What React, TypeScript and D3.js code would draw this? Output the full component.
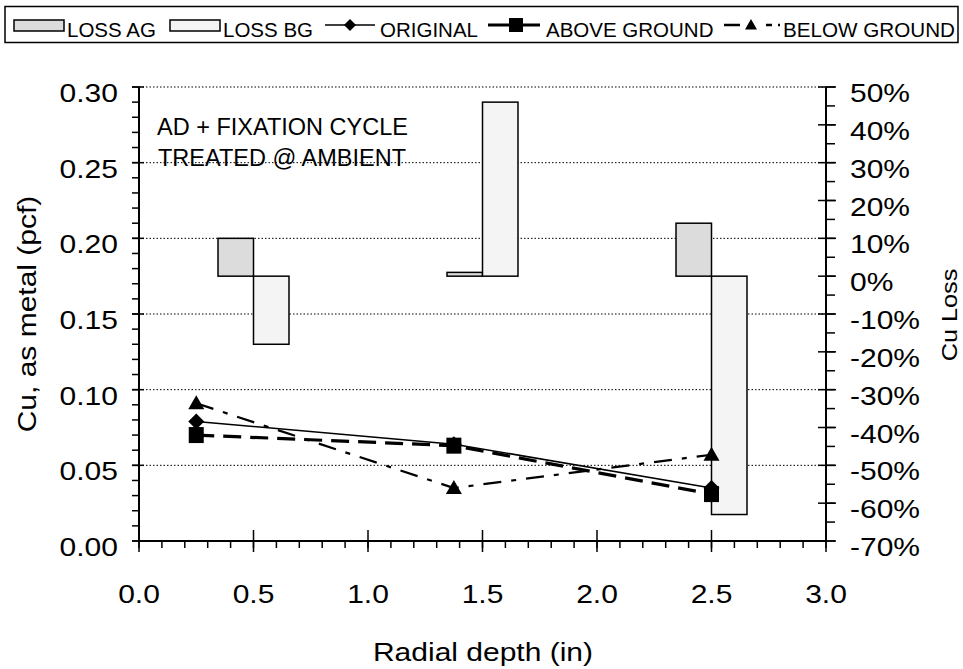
import React from "react";
import * as d3 from "d3";

const lineDepths = [0.25, 1.375, 2.5];
const originalVals = [0.079, 0.064, 0.035];
const aboveGroundVals = [0.070, 0.063, 0.031];
const belowGroundVals = [0.091, 0.035, 0.057];

const barCenters = [0.5, 1.5, 2.5];
const lossAG = [10, 1, 14];
const lossBG = [-18, 46, -63];

const xTicks = [0, 0.5, 1, 1.5, 2, 2.5, 3];
const yTicks = [0, 0.05, 0.1, 0.15, 0.2, 0.25, 0.3];
const y2Ticks = [50, 40, 30, 20, 10, 0, -10, -20, -30, -40, -50, -60, -70];

const W = 963, H = 669;
const FONT = "'Liberation Sans', Arial, sans-serif";
const AX_FS = 25;
const SX = 1.2;

function SText(props: { x: number; y: number; fs: number; sx: number; rot?: boolean; anchor?: string; children: any }) {
  const { x, y, fs, sx, rot, anchor, children } = props;
  const tf = `translate(${x},${y})${rot ? " rotate(-90)" : ""} scale(${sx},1)`;
  return (
    <text transform={tf} fontSize={fs} textAnchor={anchor || "start"} fill="#000">{children}</text>
  );
}

export default function App() {
  const L = 139, R = 826, T = 87, B = 541;
  const x = d3.scaleLinear().domain([0, 3]).range([L, R]);
  const y = d3.scaleLinear().domain([0, 0.3]).range([B, T]);
  const y2 = d3.scaleLinear().domain([-70, 50]).range([B, T]);

  const barW = 0.155;
  const barOff = 0.0775;

  const line = d3.line<[number, number]>().x(d => x(d[0])).y(d => y(d[1]));
  const ser = (vals: number[]) => lineDepths.map((d, i) => [d, vals[i]] as [number, number]);

  const yMinor = d3.range(0, 0.3001, 0.01);
  const y2Minor = d3.range(-70, 50.01, 5);
  const xMinor = d3.range(0, 3.001, 0.1);

  const diamond = (cx: number, cy: number, s: number) =>
    `M${cx},${cy - s}L${cx + s},${cy}L${cx},${cy + s}L${cx - s},${cy}Z`;
  const tri = (cx: number, cy: number, s: number) =>
    `M${cx},${cy - s}L${cx + s},${cy + s * 0.75}L${cx - s},${cy + s * 0.75}Z`;

  const legY = 25;
  const legT = 36.5;
  const LFS = 20.5;
  return (
    <svg width={W} height={H} style={{ position: "absolute", left: 0, top: 0, background: "#fff" }} fontFamily={FONT}>
      <rect x={0} y={0} width={W} height={H} fill="#fff" />
      {/* legend */}
      <rect x={5} y={6.5} width={953} height={36} fill="#fff" stroke="#000" strokeWidth={1.5} />
      <rect x={14} y={20} width={50} height={11} fill="#dcdcdc" stroke="#000" strokeWidth={1.5} />
      <text x={67} y={legT} fontSize={LFS}>LOSS AG</text>
      <rect x={170} y={20} width={50} height={11} fill="#f4f4f4" stroke="#000" strokeWidth={1.5} />
      <text x={223} y={legT} fontSize={LFS}>LOSS BG</text>
      <line x1={325} x2={375} y1={legY} y2={legY} stroke="#000" strokeWidth={1.5} />
      <path d={diamond(350, legY, 6)} fill="#000" />
      <text x={380} y={legT} fontSize={LFS}>ORIGINAL</text>
      <line x1={488} x2={540} y1={legY} y2={legY} stroke="#000" strokeWidth={3} />
      <rect x={509} y={legY - 7} width={14} height={14} fill="#000" />
      <text x={546} y={legT} fontSize={LFS}>ABOVE GROUND</text>
      <line x1={724} x2={780} y1={legY} y2={legY} stroke="#000" strokeWidth={2.5} strokeDasharray="16,26,6,6,6" />
      <path d={tri(751, legY, 6)} fill="#000" />
      <text x={783} y={legT} fontSize={LFS} textLength={172} lengthAdjust="spacingAndGlyphs">BELOW GROUND</text>

      {/* gridlines */}
      {yTicks.filter(t => t > 0).map(t => (
        <line key={"g" + t} x1={L} x2={R} y1={y(t)} y2={y(t)} stroke="#000" strokeWidth={1} strokeDasharray="1.5,2" />
      ))}

      {/* annotation */}
      <text x={157} y={135} fontSize={23.5}>AD + FIXATION CYCLE</text>
      <text x={158} y={166} fontSize={23.5}>TREATED @ AMBIENT</text>

      {/* bars */}
      {barCenters.map((c, i) => (
        <g key={"b" + i}>
          <rect x={x(c - barOff - barW / 2)} width={x(barW) - x(0)}
            y={Math.min(y2(lossAG[i]), y2(0))} height={Math.abs(y2(lossAG[i]) - y2(0))}
            fill="#dcdcdc" stroke="#000" strokeWidth={1.5} />
          <rect x={x(c + barOff - barW / 2)} width={x(barW) - x(0)}
            y={Math.min(y2(lossBG[i]), y2(0))} height={Math.abs(y2(lossBG[i]) - y2(0))}
            fill="#f4f4f4" stroke="#000" strokeWidth={1.5} />
        </g>
      ))}

      {/* lines */}
      <path d={line(ser(belowGroundVals)) || ""} fill="none" stroke="#000" strokeWidth={2.2} strokeDasharray="18,10,5,10" />
      <path d={line(ser(aboveGroundVals)) || ""} fill="none" stroke="#000" strokeWidth={3.2} strokeDasharray="18,9" />
      <path d={line(ser(originalVals)) || ""} fill="none" stroke="#000" strokeWidth={1.5} />
      {lineDepths.map((d, i) => (
        <g key={"m" + i}>
          <path d={diamond(x(d), y(originalVals[i]), 8)} fill="#000" />
          <rect x={x(d) - 7.5} y={y(aboveGroundVals[i]) - 8} width={15} height={16} fill="#000" />
          <path d={tri(x(d), y(belowGroundVals[i]), 8)} fill="#000" />
        </g>
      ))}

      {/* left axis */}
      <line x1={L} x2={L} y1={T} y2={B} stroke="#000" strokeWidth={2} />
      {yMinor.map((t, i) => (
        <line key={"ym" + i} x1={L - 7} x2={L} y1={y(t)} y2={y(t)} stroke="#000" strokeWidth={1.5} />
      ))}
      {yTicks.map(t => (
        <g key={"yt" + t}>
          <line x1={L - 7} x2={L + 5} y1={y(t)} y2={y(t)} stroke="#000" strokeWidth={1.5} />
          <SText x={118} y={y(t) + 15} fs={AX_FS} sx={SX} anchor="end">{t.toFixed(2)}</SText>
        </g>
      ))}
      {/* right axis */}
      <line x1={R} x2={R} y1={T} y2={B} stroke="#000" strokeWidth={2} />
      {y2Minor.map((t, i) => (
        <line key={"y2m" + i} x1={R} x2={R + 9} y1={y2(t)} y2={y2(t)} stroke="#000" strokeWidth={1.5} />
      ))}
      {y2Ticks.map(t => (
        <g key={"y2t" + t}>
          <line x1={R - 8} x2={R + 10} y1={y2(t)} y2={y2(t)} stroke="#000" strokeWidth={1.5} />
          <SText x={850} y={y2(t) + 15} fs={AX_FS} sx={SX}>{t + "%"}</SText>
        </g>
      ))}
      {/* bottom axis */}
      <line x1={L} x2={R} y1={B} y2={B} stroke="#000" strokeWidth={2} />
      {xMinor.map((t, i) => (
        <line key={"xm" + i} x1={x(t)} x2={x(t)} y1={B} y2={B + 7} stroke="#000" strokeWidth={1.5} />
      ))}
      {xTicks.map(t => (
        <g key={"xt" + t}>
          <line x1={x(t)} x2={x(t)} y1={B - 11} y2={B + 11} stroke="#000" strokeWidth={1.5} />
          <SText x={x(t)} y={603} fs={AX_FS} sx={SX} anchor="middle">{t.toFixed(1)}</SText>
        </g>
      ))}

      {/* titles */}
      <SText x={483} y={661} fs={AX_FS} sx={SX} anchor="middle">Radial depth (in)</SText>
      <SText x={36} y={314} fs={AX_FS} sx={SX} rot anchor="middle">Cu, as metal (pcf)</SText>
      <SText x={957} y={315} fs={22} sx={1.15} rot anchor="middle">Cu Loss</SText>
    </svg>
  );
}
